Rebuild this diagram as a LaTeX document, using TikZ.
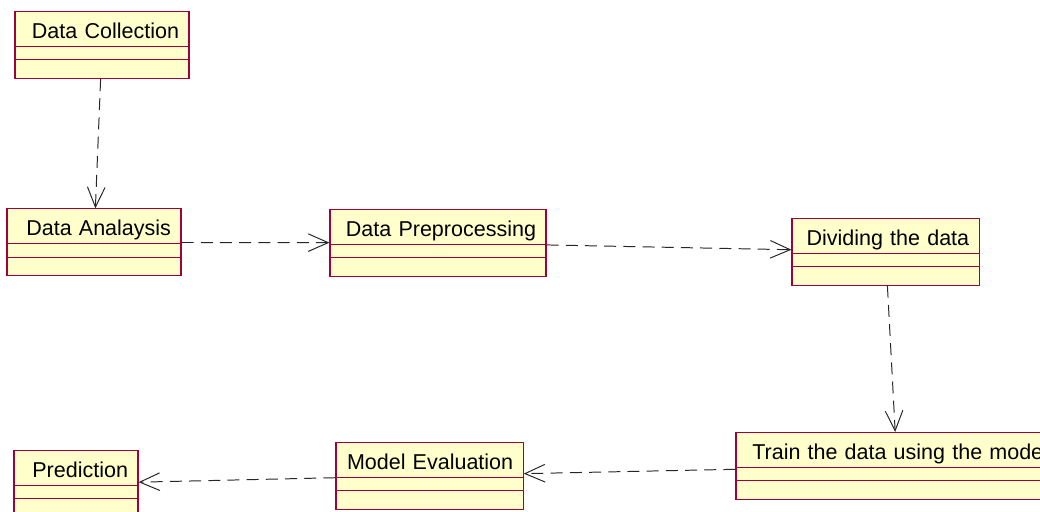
\documentclass[tikz,border=0pt]{standalone}
\usepackage{fontspec}
\setmainfont{Liberation Sans}
\usepackage{xcolor}
\usepackage{tikz}
\usetikzlibrary{arrows.meta}

\definecolor{classfill}{RGB}{255,255,204}
\definecolor{classedge}{RGB}{160,0,60}

\begin{document}
\begin{tikzpicture}[x=1cm,y=1cm,
  classbox/.style={draw=classedge,fill=classfill,line width=0.8pt,
    inner xsep=0.25cm,inner ysep=0pt,text height=0.675cm,text depth=1.0cm,
    align=right,font=\fontsize{15.3}{18}\selectfont,
    path picture={
      \draw[classedge,line width=0.7pt]
        ([yshift=-0.875cm]path picture bounding box.north west) --
        ([yshift=-0.875cm]path picture bounding box.north east);
      \draw[classedge,line width=0.7pt]
        ([yshift=-1.2125cm]path picture bounding box.north west) --
        ([yshift=-1.2125cm]path picture bounding box.north east);}},
  depends/.style={draw=black!85,line width=0.7pt,
    dash pattern=on 0.3cm off 0.18cm,
    -{Straight Barb[length=0.5cm,width=0.44cm]}}]
  \path[use as bounding box,clip] (0,0) rectangle (26,12.8);

  % Klassen: Name oben, zwei leere Abschnitte darunter
  \node[classbox,text width=3.85cm] (collect) at (2.55,11.675) {Data Collection};
  \node[classbox,text width=3.85cm] (analysis) at (2.35,6.74) {Data Analaysis};
  \node[classbox,text width=4.90cm] (preproc) at (10.95,6.73) {Data Preprocessing};
  \node[classbox,text width=4.18cm] (divide) at (22.14,6.51) {Dividing the data};
  \node[classbox,text width=7.55cm] (train) at (22.425,1.15) {Train the data using the model};
  \node[classbox,text width=4.18cm] (evaluate) at (10.74,0.91) {Model Evaluation};
  \node[classbox,text width=2.60cm] (predict) at (1.90,0.71) {Prediction};

  % Abhaengigkeiten
  \draw[depends] (collect) -- (analysis);
  \draw[depends] (analysis) -- (preproc);
  \draw[depends] (preproc) -- (divide);
  \draw[depends] (divide) -- (train);
  \draw[depends] (train) -- (evaluate);
  \draw[depends] (evaluate) -- (predict);
\end{tikzpicture}
\end{document}
